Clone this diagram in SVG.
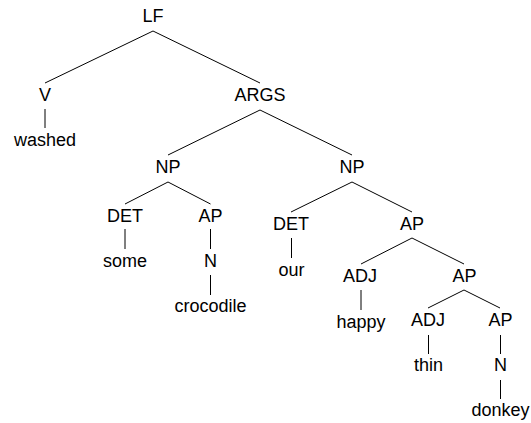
<svg xmlns="http://www.w3.org/2000/svg" width="531" height="423" viewBox="0 0 531 423">
  <style>
    .lbl { font-family: "Liberation Sans", Arial, Helvetica, sans-serif; font-size: 18px; fill: #000; text-anchor: middle; }
    .edge { stroke: #000; stroke-width: 1; fill: none; }
  </style>
  <rect width="531" height="423" fill="#fff"/>

  <!-- tree edges: parent bottom (baseline+9) to child top (baseline-18) -->
  <g id="edges" class="edge">
    <line x1="153" y1="31" x2="45" y2="83"/>
    <line x1="153" y1="31" x2="260" y2="83"/>
    <line x1="45" y1="109" x2="45" y2="128"/>
    <line x1="260" y1="110" x2="168" y2="155"/>
    <line x1="260" y1="110" x2="352" y2="155"/>
    <line x1="168" y1="182" x2="125" y2="204"/>
    <line x1="168" y1="182" x2="210.5" y2="204"/>
    <line x1="125" y1="229" x2="125" y2="249"/>
    <line x1="210.5" y1="229" x2="210.5" y2="249"/>
    <line x1="210.5" y1="275" x2="210.5" y2="295"/>
    <line x1="352" y1="182" x2="291" y2="212"/>
    <line x1="352" y1="182" x2="412" y2="212"/>
    <line x1="291.5" y1="238" x2="291.5" y2="258"/>
    <line x1="412" y1="238" x2="361" y2="264"/>
    <line x1="412" y1="238" x2="464" y2="264"/>
    <line x1="361" y1="290" x2="361" y2="310"/>
    <line x1="464" y1="290" x2="428" y2="308"/>
    <line x1="464" y1="290" x2="500" y2="308"/>
    <line x1="428.5" y1="335" x2="428.5" y2="354"/>
    <line x1="500.5" y1="335" x2="500.5" y2="354"/>
    <line x1="500.5" y1="380" x2="500.5" y2="399"/>
  </g>

  <g id="n-lf"><text class="lbl" x="153" y="22">LF</text></g>
  <g id="n-v"><text class="lbl" x="45" y="101">V</text></g>
  <g id="n-washed"><text class="lbl" x="45" y="146">washed</text></g>
  <g id="n-args"><text class="lbl" x="260" y="101">ARGS</text></g>
  <g id="n-np1"><text class="lbl" x="168" y="173">NP</text></g>
  <g id="n-det1"><text class="lbl" x="125" y="222">DET</text></g>
  <g id="n-some"><text class="lbl" x="125" y="267">some</text></g>
  <g id="n-ap1"><text class="lbl" x="210.5" y="222">AP</text></g>
  <g id="n-n1"><text class="lbl" x="210.5" y="267">N</text></g>
  <g id="n-crocodile"><text class="lbl" x="210.5" y="312">crocodile</text></g>
  <g id="n-np2"><text class="lbl" x="352" y="173">NP</text></g>
  <g id="n-det2"><text class="lbl" x="291" y="230">DET</text></g>
  <g id="n-our"><text class="lbl" x="291.5" y="276">our</text></g>
  <g id="n-ap2"><text class="lbl" x="412" y="230">AP</text></g>
  <g id="n-adj1"><text class="lbl" x="360" y="282">ADJ</text></g>
  <g id="n-happy"><text class="lbl" x="361" y="328">happy</text></g>
  <g id="n-ap3"><text class="lbl" x="464.5" y="282">AP</text></g>
  <g id="n-adj2"><text class="lbl" x="428" y="326">ADJ</text></g>
  <g id="n-thin"><text class="lbl" x="428.5" y="371">thin</text></g>
  <g id="n-ap4"><text class="lbl" x="500.5" y="326">AP</text></g>
  <g id="n-n2"><text class="lbl" x="500.5" y="371">N</text></g>
  <g id="n-donkey"><text class="lbl" x="500.5" y="416">donkey</text></g>
</svg>
